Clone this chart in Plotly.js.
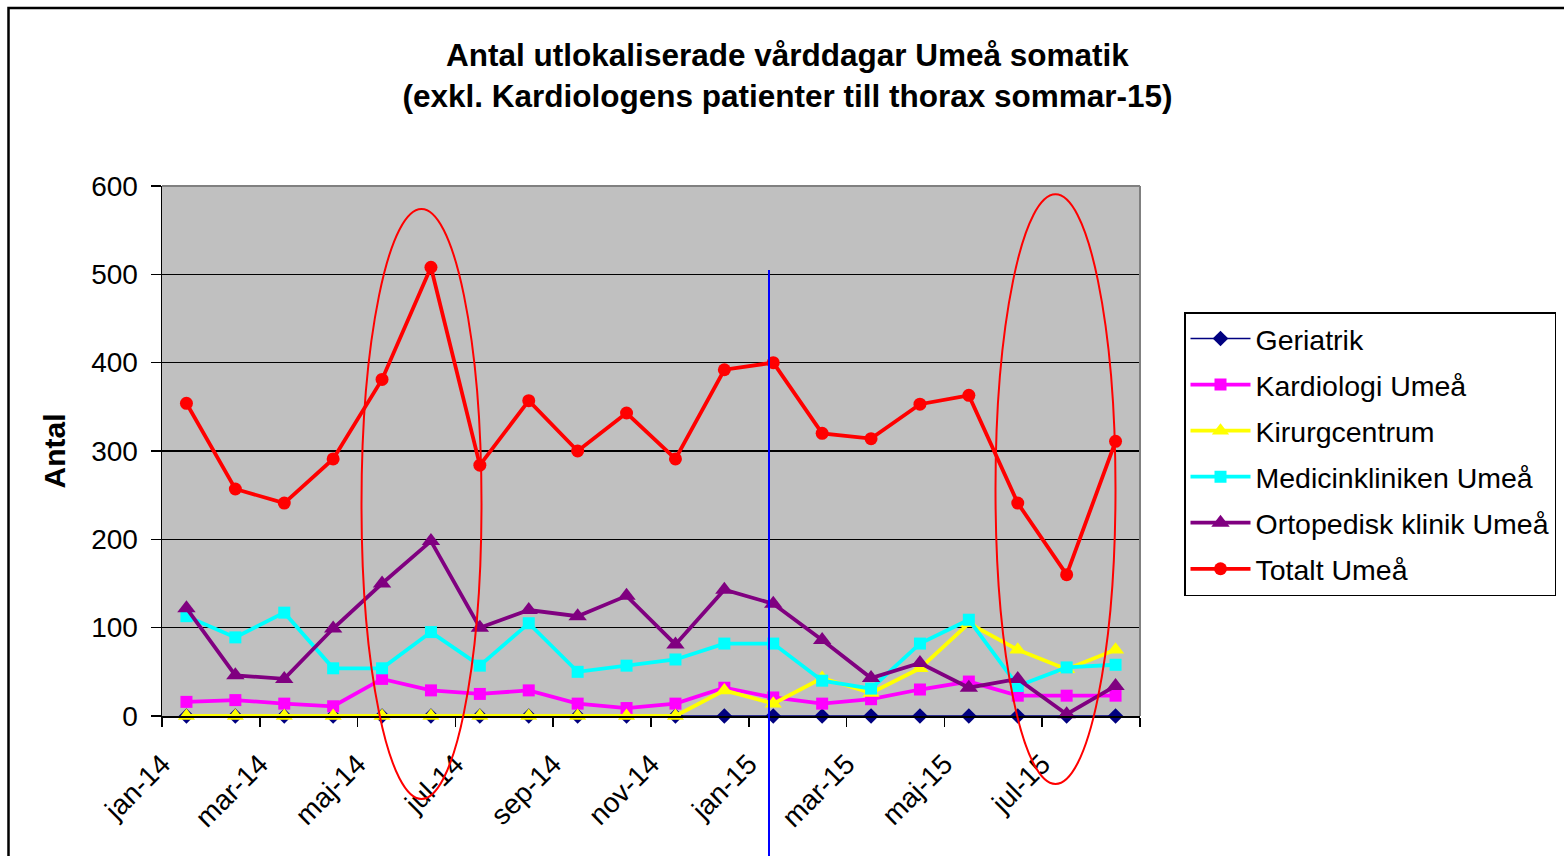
<!DOCTYPE html>
<html><head><meta charset="utf-8">
<script src="https://cdn.plot.ly/plotly-3.0.1.min.js"></script>
<style>html,body{margin:0;padding:0;background:#fff;} #chart{width:1564px;height:856px;}</style>
</head><body><div id="chart"></div>
<script>
const months = ['jan-14','feb-14','mar-14','apr-14','maj-14','jun-14','jul-14','aug-14','sep-14','okt-14','nov-14','dec-14',
                'jan-15','feb-15','mar-15','apr-15','maj-15','jun-15','jul-15','aug-15'];
const tickLabels = ['jan-14','mar-14','maj-14','jul-14','sep-14','nov-14','jan-15','mar-15','maj-15','jul-15'];

const geriatrik       = [0,0,0,0,0,0,0,0,0,0,0,0,0,0,0,0,0,0,0,0];
const kardiologi      = [16,18,14,11,42,29,25,29,14,9,14,32,21,14,19,30,39,23,23,23];
const kirurgcentrum   = [0,0,0,0,0,0,0,0,0,0,0,29,14,43,26,54,105,75,53,75];
const medicinkliniken = [113,89,117,54,54,95,57,105,50,57,64,82,82,40,31,82,109,34,55,58];
const ortopedisk      = [122,46,42,99,150,198,100,120,113,136,81,143,127,86,43,60,32,42,2,34];
const totalt          = [354,257,241,291,381,508,284,357,300,343,291,392,400,320,314,353,363,241,160,311];

const F = 'Liberation Sans, Arial, sans-serif';

function tr(name, y, color, symbol, msize, lw){
  return {type:'scatter', mode:'lines+markers', name:name, x:months, y:y, legendgroup:name,
    line:{color:color, width:lw}, marker:{color:color, symbol:symbol, size:msize, line:{width:0}},
    cliponaxis:false};
}
const data = [
  tr('Geriatrik', geriatrik, '#000080', 'diamond', 12, 1.5),
  tr('Kardiologi Umeå', kardiologi, '#FF00FF', 'square', 12, 3.8),
  tr('Kirurgcentrum', kirurgcentrum, '#FFFF00', 'triangle-up', 15, 3.8),
  tr('Medicinkliniken Umeå', medicinkliniken, '#00FFFF', 'square', 12, 3.8),
  tr('Ortopedisk klinik Umeå', ortopedisk, '#800080', 'triangle-up', 16, 3.8),
  tr('Totalt Umeå', totalt, '#FF0000', 'circle', 13, 3.8)
];

const L=162, R=1140, T=186, B=716, W=R-L, H=B-T;
const px = v => (v-L)/W, py = v => (B-v)/H;

// tick marks on category boundaries every 2 months; labels carried by the boundary ticks
const tickPos = [], tickTxt = [];
for(let i=0;i<=months.length;i+=2){
  tickPos.push(i-0.5);
  tickTxt.push(i < months.length ? months[i] : '');
}

const layout = {
  width:1564, height:856,
  margin:{l:L, r:1564-R, t:T, b:856-B, pad:0, autoexpand:false},
  paper_bgcolor:'#FFFFFF', plot_bgcolor:'#C0C0C0',
  font:{family:F, size:28, color:'#000'},
  showlegend:true,
  title:{text:'<b>Antal utlokaliserade vårddagar Umeå somatik<br>(exkl. Kardiologens patienter till thorax sommar-15)</b>',
    font:{family:F, size:31.5, color:'#000'}, xref:'container', x:787.5/1564, xanchor:'center',
    yref:'container', y:1-66/856, yanchor:'top'},
  xaxis:{type:'category', categoryorder:'array', categoryarray:months, range:[-0.5, months.length-0.5],
    tickmode:'array', tickvals:tickPos, ticktext:tickTxt, ticks:'outside', ticklen:9, tickwidth:1.5, tickcolor:'#000',
    tickangle:-45, ticklabelstandoff:10, automargin:false,
    tickfont:{family:F, size:28, color:'#000'},
    showline:true, linecolor:'#000', linewidth:1.5, showgrid:false, zeroline:false, fixedrange:true},
  yaxis:{range:[0,600], tickmode:'linear', tick0:0, dtick:100, ticks:'outside', ticklen:10, tickwidth:1.5, tickcolor:'#000',
    tickfont:{family:F, size:28, color:'#000'}, ticklabelstandoff:7, automargin:false,
    showline:true, linecolor:'#000', linewidth:1.5, gridcolor:'#000', gridwidth:1.6, zeroline:false, fixedrange:true,
    title:{text:'<b>Antal</b>', font:{family:F, size:30, color:'#000'}, standoff:16}},
  legend:{x:px(1184), y:py(312), xanchor:'left', yanchor:'top', bgcolor:'#FFFFFF', bordercolor:'#000', borderwidth:1.5,
    font:{family:F, size:28.5, color:'#000'}, traceorder:'grouped', tracegroupgap:6, itemwidth:60},
  shapes:[
    {type:'line', xref:'paper', yref:'paper', x0:0, x1:1, y0:1, y1:1, line:{color:'#808080', width:2}},
    {type:'line', xref:'paper', yref:'paper', x0:1, x1:1, y0:0, y1:1, line:{color:'#808080', width:2}},
    {type:'rect', xref:'paper', yref:'paper', x0:px(8.5), x1:px(1580), y0:py(880), y1:py(8), line:{color:'#000', width:2.5}},
    {type:'line', xref:'paper', yref:'paper', x0:px(769), x1:px(769), y0:py(870), y1:py(270), line:{color:'#0000FF', width:2}},
    {type:'circle', xref:'paper', yref:'paper', x0:px(361.5), x1:px(481.5), y0:py(799), y1:py(209), line:{color:'#FF0000', width:2}},
    {type:'circle', xref:'paper', yref:'paper', x0:px(995.5), x1:px(1115.5), y0:py(784), y1:py(194.3), line:{color:'#FF0000', width:2}}
  ]
};
Plotly.newPlot('chart', data, layout, {staticPlot:true, displayModeBar:false});
</script>
</body></html>
